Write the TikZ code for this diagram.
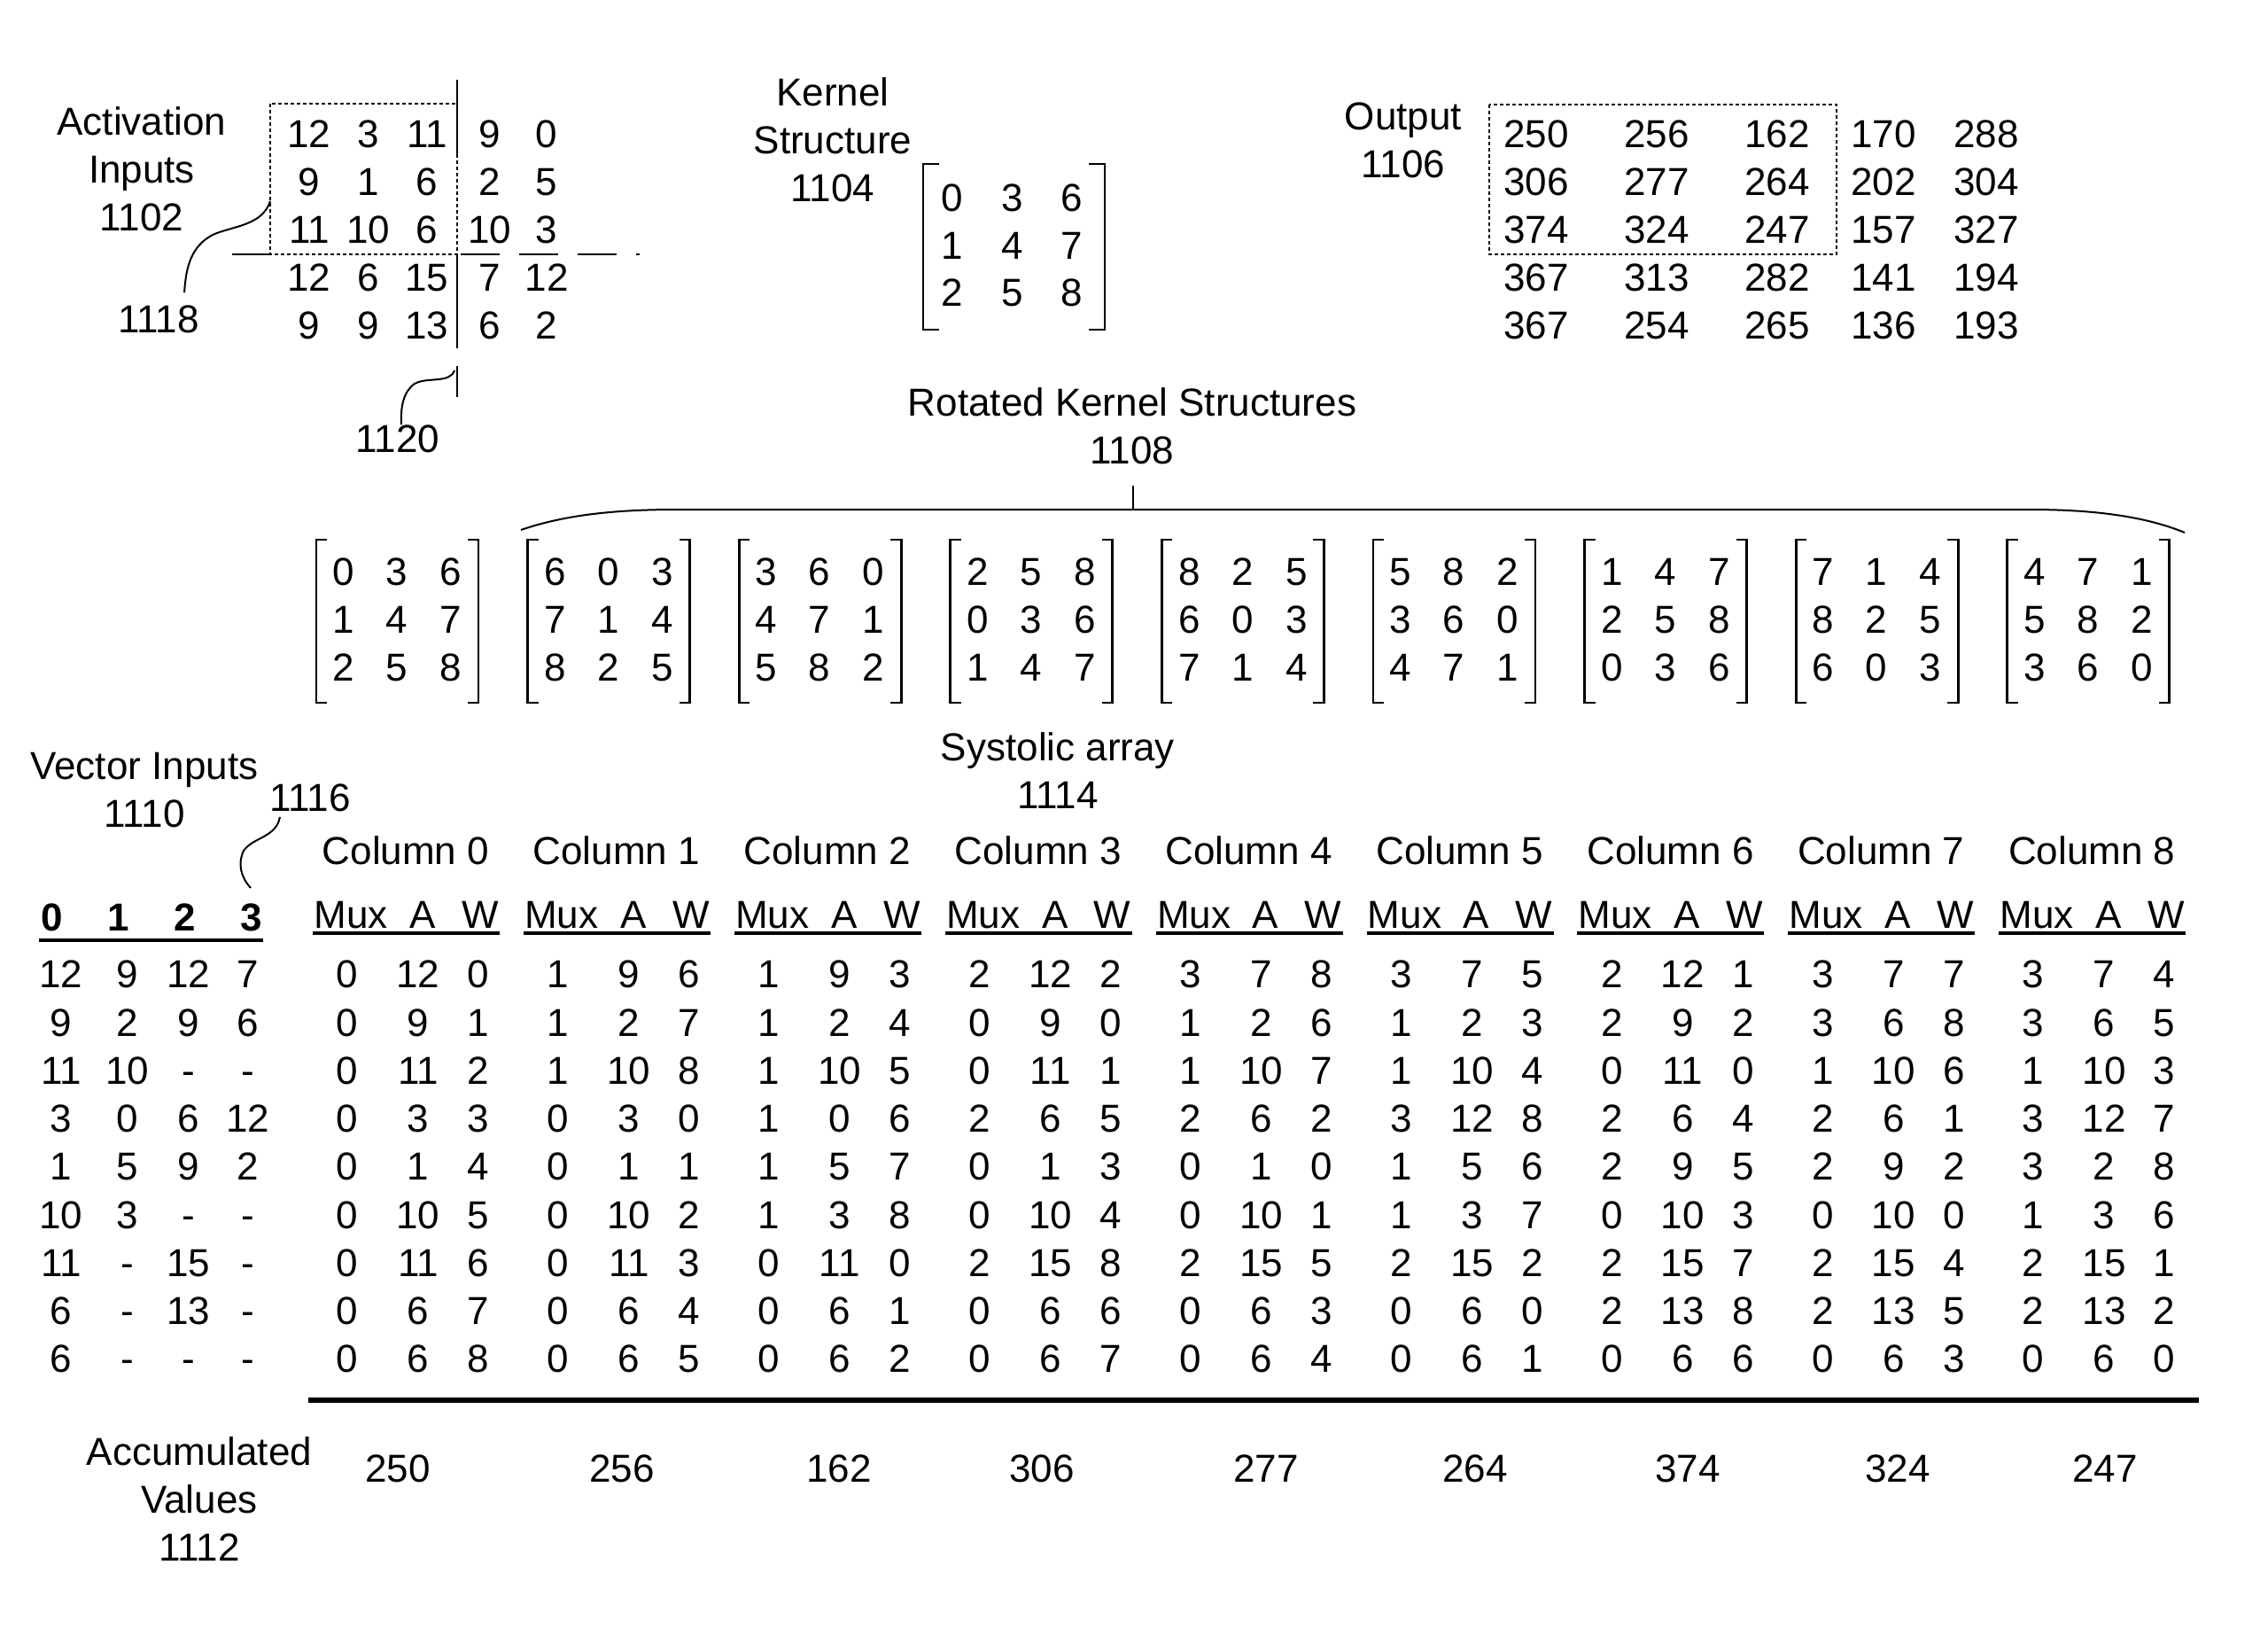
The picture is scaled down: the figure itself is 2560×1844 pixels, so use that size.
\documentclass[tikz,border=0pt]{standalone}
\usepackage{fontspec}
\setmainfont{Liberation Sans}
\tikzset{
  lbl/.style={inner sep=0pt, align=center, font=\fontsize{22}{27}\selectfont},
  num/.style={inner sep=0pt, font=\fontsize{22}{27}\selectfont, text height=15.8pt, text depth=0pt},
  hdr/.style={num, font=\fontsize{22}{27}\selectfont\bfseries},
  brk/.style={line width=1.4pt},
  lead/.style={line width=1pt},
  dotbox/.style={line width=1pt, dash pattern=on 2pt off 1.5pt},
  ulin/.style={line width=1.6pt},
  thickrule/.style={line width=2.6pt}
}

\begin{document}
\begin{tikzpicture}[x=0.5pt,y=-0.5pt]
  \useasboundingbox (0,0) rectangle (2560,1844);

  % activation inputs with the 3x3 window
  \node[lbl] (actlbl) at (160,191) {Activation\\Inputs\\1102};
  \foreach \row [count=\r from 0] in {{12,3,11,9,0},{9,1,6,2,5},{11,10,6,10,3},{12,6,15,7,12},{9,9,13,6,2}}
    \foreach \v [count=\c from 0] in \row {
      \pgfmathsetmacro\xx{{349,416,482,553,617}[\c]}
      \node[num] (act-\r-\c) at (\xx,151+54*\r) {\v};
    }
  \draw[dotbox] (305,117) rectangle (516,287);
  \draw[brk] (516,90) -- (516,178);
  \draw[brk] (516,287) -- (516,393);
  \draw[brk] (262,287) -- (305,287);
  \draw[brk, dash pattern=on 22pt off 11pt] (520,287) -- (722,287);
  \node[lbl] (n1118) at (179,360) {1118};
  \coordinate (win) at (305,227);
  \draw[lead] (win) .. controls (296,255) and (262,255) .. (240,265)
    .. controls (216,278) and (210,300) .. ([shift={(-17,-14)}]n1118.north east);
  \node[lbl] (n1120) at (449,495) {1120};
  \coordinate (split) at (516,413);
  \draw[brk] (split) -- ++(0,35);
  \draw[lead] ([shift={(-3,5)}]split) .. controls (508,433) and (482,425) .. (468,433)
    .. controls (455,442) and (452,460) .. ([xshift=2pt]n1120.north);

  % kernel
  \node[lbl] (kerlbl) at (940,158) {Kernel\\Structure\\1104};
  \draw[brk] (1060,185) -- (1042,185) -- (1042,372) -- (1060,372);
  \draw[brk] (1229,185) -- (1247,185) -- (1247,372) -- (1229,372);
  \foreach \row [count=\r from 0] in {{0,3,6},{1,4,7},{2,5,8}}
    \foreach \v [count=\c from 0] in \row
      \node[num] (ker-\r-\c) at (1075+67.5*\c,223+53.5*\r) {\v};

  % output
  \node[lbl] (outlbl) at (1584,158) {Output\\1106};
  \foreach \row [count=\r from 0] in {{250,256,162,170,288},{306,277,264,202,304},{374,324,247,157,327},{367,313,282,141,194},{367,254,265,136,193}}
    \foreach \v [count=\c from 0] in \row {
      \pgfmathsetmacro\xx{{1734,1870,2006,2126,2242}[\c]}
      \node[num] (out-\r-\c) at (\xx,151+54*\r) {\v};
    }
  \draw[dotbox] (1681,118) rectangle (2073,287);

  % rotated kernels
  \node[lbl] (rotlbl) at (1278,481) {Rotated Kernel Structures\\1108};
  \coordinate (rotL) at (588,598);
  \coordinate (rotR) at (2466,601);
  \coordinate (rotM) at (1279,575);
  \draw[lead] (rotL) .. controls (640,580) and (700,575) .. (763,575) -- (2292,575)
    .. controls (2360,575) and (2420,582) .. (rotR);
  \draw[lead] (rotM) -- ++(0,-27);
  \foreach \mat [count=\k from 0] in {{0/3/6,1/4/7,2/5/8},{6/0/3,7/1/4,8/2/5},{3/6/0,4/7/1,5/8/2},
      {2/5/8,0/3/6,1/4/7},{8/2/5,6/0/3,7/1/4},{5/8/2,3/6/0,4/7/1},
      {1/4/7,2/5/8,0/3/6},{7/1/4,8/2/5,6/0/3},{4/7/1,5/8/2,3/6/0}} {
    \pgfmathsetmacro\lx{357+238.6*\k}
    \draw[brk] (\lx+12,609) -- (\lx,609) -- (\lx,793) -- (\lx+12,793);
    \draw[brk] (\lx+171,609) -- (\lx+183,609) -- (\lx+183,793) -- (\lx+171,793);
    \foreach \p/\q/\s [count=\r from 0] in \mat {
      \node[num] (rk-\k-\r-0) at (\lx+31,645+54*\r) {\p};
      \node[num] (rk-\k-\r-1) at (\lx+91,645+54*\r) {\q};
      \node[num] (rk-\k-\r-2) at (\lx+152,645+54*\r) {\s};
    }
  }

  % vector inputs
  \node[lbl] (veclbl) at (163,892) {Vector Inputs\\1110};
  \node[lbl] (n1116) at (350,900) {1116};
  \coordinate (lane) at (283,1002);
  \draw[lead] ([shift={(12,6)}]n1116.south west) .. controls (312,945) and (285,945) .. (275,960)
    .. controls (268,975) and (272,990) .. (lane);
  \foreach \v/\x in {0/59,1/134,2/209,3/284}
    \node[hdr] (vh-\v) at (\x,1035) {\v};
  \draw[line width=2.2pt] (44,1061) -- (297,1061);
  \foreach \row [count=\r from 0] in {{12,9,12,7},{9,2,9,6},{11,10,-,-},{3,0,6,12},{1,5,9,2},{10,3,-,-},{11,-,15,-},{6,-,13,-},{6,-,-,-}}
    \foreach \v [count=\c from 0] in \row {
      \pgfmathsetmacro\xx{{69,144,213,280}[\c]}
      \node[num] (vi-\r-\c) at (\xx,1099+54.25*\r) {\v};
    }

  % systolic array columns
  \node[lbl] (syslbl) at (1194,870) {Systolic array\\1114};
  \foreach \g in {0,...,8} {
    \pgfmathsetmacro\gx{353+237.9*\g}
    \node[num] (col-\g) at (\gx+105,960) {Column \g};
    \node[num] (mux-\g) at (\gx+43,1032) {Mux};
    \node[num] (a-\g) at (\gx+124,1032) {A};
    \node[num] (w-\g) at (\gx+189,1032) {W};
    \draw[ulin] (\gx,1053) -- (\gx+211,1053);
  }
  \foreach \col [count=\g from 0] in {
      {0/12/0,0/9/1,0/11/2,0/3/3,0/1/4,0/10/5,0/11/6,0/6/7,0/6/8},
      {1/9/6,1/2/7,1/10/8,0/3/0,0/1/1,0/10/2,0/11/3,0/6/4,0/6/5},
      {1/9/3,1/2/4,1/10/5,1/0/6,1/5/7,1/3/8,0/11/0,0/6/1,0/6/2},
      {2/12/2,0/9/0,0/11/1,2/6/5,0/1/3,0/10/4,2/15/8,0/6/6,0/6/7},
      {3/7/8,1/2/6,1/10/7,2/6/2,0/1/0,0/10/1,2/15/5,0/6/3,0/6/4},
      {3/7/5,1/2/3,1/10/4,3/12/8,1/5/6,1/3/7,2/15/2,0/6/0,0/6/1},
      {2/12/1,2/9/2,0/11/0,2/6/4,2/9/5,0/10/3,2/15/7,2/13/8,0/6/6},
      {3/7/7,3/6/8,1/10/6,2/6/1,2/9/2,0/10/0,2/15/4,2/13/5,0/6/3},
      {3/7/4,3/6/5,1/10/3,3/12/7,3/2/8,1/3/6,2/15/1,2/13/2,0/6/0}} {
    \pgfmathsetmacro\gx{353+237.9*\g}
    \foreach \m/\a/\w [count=\r from 0] in \col {
      \node[num] (s-\g-\r-m) at (\gx+39,1099+54.25*\r) {\m};
      \node[num] (s-\g-\r-a) at (\gx+119,1099+54.25*\r) {\a};
      \node[num] (s-\g-\r-w) at (\gx+187,1099+54.25*\r) {\w};
    }
  }

  % accumulated values
  \draw[thickrule] (348,1580) -- (2482,1580);
  \node[lbl] (acclbl) at (225,1692) {Accumulated\\Values\\1112};
  \foreach \v/\x [count=\g from 0] in {250/449,256/702,162/947,306/1176,277/1429,264/1665,374/1905,324/2142,247/2376}
    \node[num] (acc-\g) at (\x,1657) {\v};
\end{tikzpicture}
\end{document}
